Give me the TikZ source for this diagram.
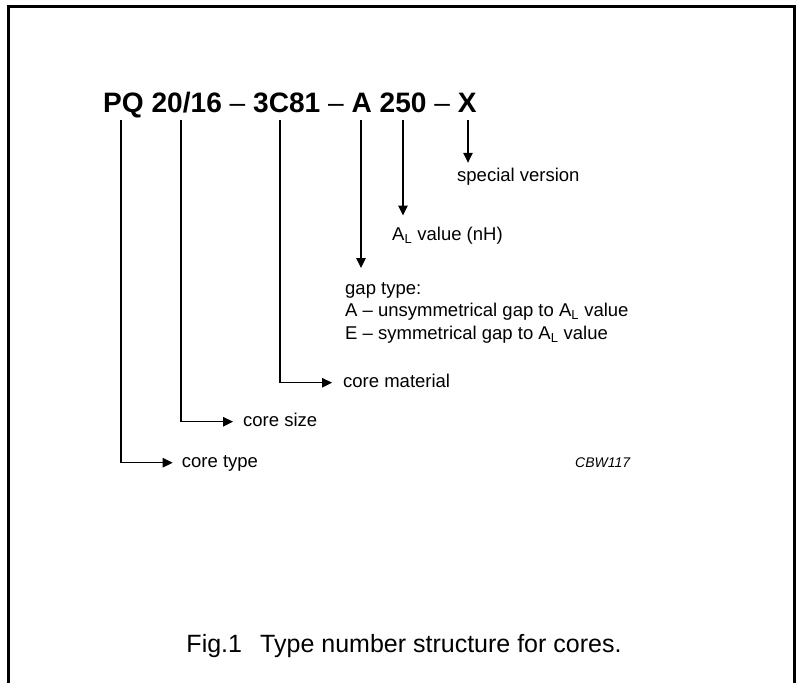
\documentclass[tikz,border=0pt]{standalone}
\usepackage{fontspec}
\setmainfont{Liberation Sans}
\usetikzlibrary{arrows.meta}
\begin{document}
\begin{tikzpicture}[x=1pt,y=-1pt,
  conn/.style={line width=1.3pt,-{Triangle[length=10pt,width=9.5pt]}},
  lbl/.style={inner sep=0pt,anchor=base west,font=\fontsize{18.5}{22.5}\selectfont,text height=13pt,text depth=4pt},
  lblblock/.style={inner sep=0pt,anchor=north west,font=\fontsize{18.5}{22.5}\selectfont,align=left},
  frame/.style={line width=3pt}]
\useasboundingbox (0,0) rectangle (802,682);
\begin{scope}
\clip (0,0) rectangle (802,682);
\draw[frame] (8,690) -- (8,6.5) -- (794,6.5) -- (794,690);
\end{scope}
% title
\node[inner sep=0pt,anchor=base west,font=\fontsize{28.1}{30}\selectfont\bfseries] (title) at (103,113)
  {PQ 20/16 {\mdseries\char"2013} 3C81 {\mdseries\char"2013} A 250 {\mdseries\char"2013} X};
% line tops
\coordinate (t1) at (121,120);
\coordinate (t2) at (181,120);
\coordinate (t3) at (280,120);
\coordinate (t4) at (361,120);
\coordinate (t5) at (403,120);
\coordinate (t6) at (468,120);
% labels
\node[lbl] (ctype) at (181.7,467.2) {core type};
\node[lbl] (csize) at (243,426.2) {core size};
\node[lbl] (cmat) at (343,387.2) {core material};
\node[lblblock] (gap) at (345,282) {gap type:\\A {\char"2013} unsymmetrical gap to A\textsubscript{L} value\\E {\char"2013} symmetrical gap to A\textsubscript{L} value};
\node[lbl] (al) at (392,240.7) {A\textsubscript{L} value (nH)};
\node[lbl] (sv) at (457,181) {special version};
\node[inner sep=0pt,anchor=base west,font=\fontsize{14}{16}\selectfont\itshape] (code) at (575,467) {CBW117};
\node[inner sep=0pt,anchor=base,font=\fontsize{25}{28}\selectfont] (cap) at (404,652.7) {Fig.1\hspace{0.45em} Type number structure for cores.};
% connectors
\draw[conn,shorten >=9pt] (t1) |- (ctype.west);
\draw[conn,shorten >=10pt] (t2) |- (csize.west);
\draw[conn,shorten >=11pt] (t3) |- (cmat.west);
\draw[conn,shorten >=14pt] (t4) -- (t4 |- gap.north);
\draw[conn,shorten >=12pt] (t5) -- (t5 |- al.north);
\draw[conn,shorten >=5pt] (t6) -- (t6 |- sv.north);
\end{tikzpicture}
\end{document}
